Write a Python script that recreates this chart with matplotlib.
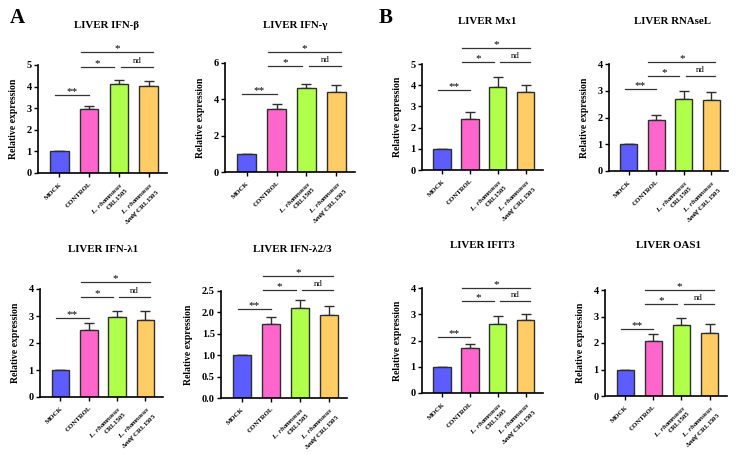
import matplotlib
matplotlib.use("Agg")
import matplotlib.pyplot as plt

plt.rcParams['font.family'] = ['Liberation Serif', 'DejaVu Serif']
plt.rcParams['font.weight'] = 'bold'
plt.rcParams['mathtext.fontset'] = 'custom'
plt.rcParams['mathtext.it'] = 'Liberation Serif:italic:bold'
plt.rcParams['mathtext.rm'] = 'Liberation Serif:bold'
plt.rcParams['mathtext.bf'] = 'Liberation Serif:bold'

categories = ["MOCK", "CONTROL",
              r"$\it{L.\ rhamnosus}$" + "\nCRL1505",
              r"$\it{L.\ rhamnosus}$" + "\n" + r"$\it{\Delta mbf}$" + " CRL1505"]

titles = ["LIVER IFN-β", "LIVER IFN-γ", "LIVER Mx1", "LIVER RNAseL",
          "LIVER IFN-λ1", "LIVER IFN-λ2/3", "LIVER IFIT3", "LIVER OAS1"]

ifn_b = [1.0, 2.95, 4.10, 4.05]
ifn_b_err = [0, 0.15, 0.20, 0.20]
ifn_g = [1.0, 3.47, 4.60, 4.42]
ifn_g_err = [0, 0.30, 0.22, 0.38]
mx1 = [1.0, 2.40, 3.90, 3.70]
mx1_err = [0, 0.35, 0.50, 0.30]
rnasel = [1.0, 1.90, 2.68, 2.65]
rnasel_err = [0, 0.20, 0.30, 0.32]
ifn_l1 = [1.0, 2.50, 2.95, 2.85]
ifn_l1_err = [0, 0.24, 0.22, 0.33]
ifn_l23 = [1.0, 1.74, 2.10, 1.93]
ifn_l23_err = [0, 0.16, 0.20, 0.22]
ifit3 = [1.0, 1.70, 2.62, 2.77]
ifit3_err = [0, 0.15, 0.33, 0.25]
oas1 = [1.0, 2.08, 2.68, 2.37]
oas1_err = [0, 0.25, 0.26, 0.35]

values = [ifn_b, ifn_g, mx1, rnasel, ifn_l1, ifn_l23, ifit3, oas1]
errors = [ifn_b_err, ifn_g_err, mx1_err, rnasel_err, ifn_l1_err, ifn_l23_err, ifit3_err, oas1_err]

y_max = [5, 6, 5, 4, 4, 2.5, 4, 4]
y_step = [1, 2, 1, 1, 1, 0.5, 1, 1]

# significance bracket heights: (**, * / nd, top *)
sig_heights = [(3.61, 4.92, 5.59), (4.29, 5.84, 6.61), (3.77, 5.11, 5.74),
               (3.05, 3.55, 4.09), (2.91, 3.71, 4.25), (2.07, 2.52, 2.85),
               (2.12, 3.50, 3.99), (2.53, 3.47, 4.00)]
sig_labels = ["**", "*", "nd", "*"]

colors = ["#5C5CFF", "#FF66CC", "#B0FF4A", "#FFCC66"]

W, H = 736, 455
fig = plt.figure(figsize=(7.36, 4.55), dpi=100)

# axes rectangles in pixels: left, right, top, bottom
rects = [(38, 167, 65, 173), (225, 355, 63, 172), (422, 543, 64, 170), (609, 728, 64, 171),
         (40, 163, 289, 397), (221, 347, 291, 398), (422, 543, 288, 393), (605, 727, 290, 396)]
title_pos = [(107, 25), (295, 25), (487, 21), (673, 21),
             (103, 249), (292, 249), (482, 245), (668, 245)]

for k in range(8):
    l, r, t, b = rects[k]
    ax = fig.add_axes([l / W, 1 - b / H, (r - l) / W, (b - t) / H])
    x = list(range(4))
    ax.bar(x, values[k], width=0.62, color=colors, edgecolor="#2e2e2e", linewidth=1.0, zorder=2)
    ax.errorbar(x, values[k], yerr=[[0] * 4, errors[k]], fmt='none', ecolor="#2e2e2e",
                elinewidth=1.0, capsize=3.5, capthick=1.0, zorder=1)
    ax.set_xlim(-0.72, 3.62)
    ax.set_ylim(0, y_max[k])
    nt = int(round(y_max[k] / y_step[k]))
    ticks = [i * y_step[k] for i in range(nt + 1)]
    ax.set_yticks(ticks)
    if y_step[k] < 1:
        ax.set_yticklabels([f"{v:.1f}" for v in ticks])
    else:
        ax.set_yticklabels([f"{int(v)}" for v in ticks])
    ax.set_xticks(x)
    ax.set_xticklabels(categories, rotation=45, ha='right', va='top', fontsize=4.9,
                       rotation_mode='anchor')
    ax.tick_params(axis='y', labelsize=7.5, width=1.0, length=3, pad=1.5)
    ax.tick_params(axis='x', width=1.0, length=3, pad=3)
    for s in ['top', 'right']:
        ax.spines[s].set_visible(False)
    for s in ['left', 'bottom']:
        ax.spines[s].set_linewidth(1.2)
    ax.set_ylabel("Relative expression", fontsize=7, fontweight='bold', labelpad=6)

    h1, h2, h3 = sig_heights[k]
    ym = y_max[k]
    segs = [(-0.15, 1.0, h1, "**"), (0.72, 1.85, h2, "*"), (2.08, 3.15, h2, "nd"), (0.72, 3.15, h3, "*")]
    for (x0, x1, hh, lab) in segs:
        ax.plot([x0, x1], [hh, hh], color="#333333", lw=0.9, clip_on=False)
        dy = 0.02 * ym
        if lab == "nd":
            ax.text((x0 + x1) / 2, hh + dy, lab, ha='center', va='bottom', fontsize=6.3,
                    fontweight='normal', clip_on=False)
        else:
            ax.text((x0 + x1) / 2, hh - 0.01 * ym, lab, ha='center', va='bottom', fontsize=8,
                    fontweight='normal', clip_on=False)

    tx, ty = title_pos[k]
    fig.text(tx / W, 1 - ty / H, titles[k], ha='center', va='center', fontsize=7.8,
             fontweight='bold')

fig.text(17 / W, 1 - 18 / H, "A", fontsize=15, fontweight='bold', ha='center', va='center')
fig.text(386 / W, 1 - 18 / H, "B", fontsize=15, fontweight='bold', ha='center', va='center')

fig.savefig("out.png", dpi=100)
